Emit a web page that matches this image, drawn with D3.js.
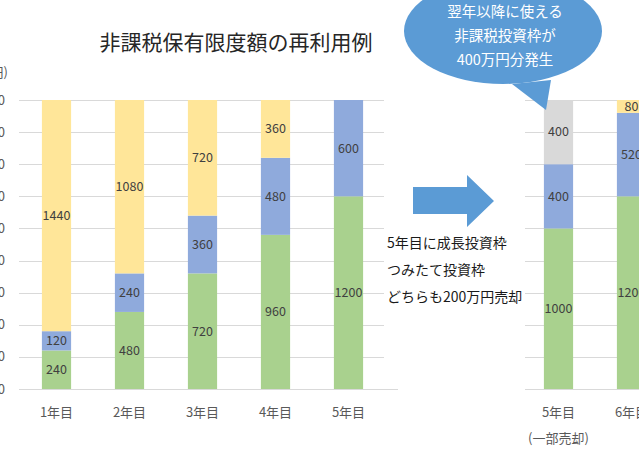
<!DOCTYPE html>
<html>
<head>
<meta charset="utf-8">
<script src="https://cdn.jsdelivr.net/npm/d3@7"></script>
<style>
  body { margin: 0; background: #fff; }
  svg text { font-family: "Noto Sans CJK JP", "Noto Sans", sans-serif; }
</style>
</head>
<body>
<svg width="639" height="450"></svg>
<script>
// left chart: 1年目..5年目
var yearsA = ['1年目', '2年目', '3年目', '4年目', '5年目'];
var tsumitate = [240, 480, 720, 960, 1200];
var seicho = [120, 240, 360, 480, 600];
var mishiyo = [1440, 1080, 720, 360, 0];

// right chart: after partial sale
var yearsB = ['5年目', '6年目'];
var yearsBsub = ['(一部売却)', ''];
var tsumitateB = [1000, 1200];
var seichoB = [400, 520];
var freedB = [400, 0];      // gray: freed-up allowance
var mishiyoB = [0, 80];

var yTicks = [0, 200, 400, 600, 800, 1000, 1200, 1400, 1600, 1800];

var colors = { green: '#A9D18E', blue: '#8FAADC', yellow: '#FFE699', gray: '#D9D9D9' };

var svg = d3.select('svg');
var y = d3.scaleLinear().domain([0, 1800]).range([389, 100]);

// ---- left chart
var xA = d3.scaleBand().domain(yearsA).range([20, 385]).paddingInner(0.6).paddingOuter(0.3);

svg.append('g').selectAll('line')
  .data(yTicks)
  .enter().append('line')
  .attr('x1', 19).attr('x2', function(d) { return d === 0 ? 398 : 384; })
  .attr('y1', function(d) { return Math.round(y(d)) + 0.5; })
  .attr('y2', function(d) { return Math.round(y(d)) + 0.5; })
  .attr('stroke', '#D9D9D9').attr('stroke-width', 1);

svg.append('g').selectAll('text')
  .data(yTicks)
  .enter().append('text')
  .attr('x', 5).attr('y', function(d) { return y(d); })
  .attr('dy', '0.35em').attr('text-anchor', 'end')
  .attr('font-size', 13).attr('fill', '#595959')
  .text(function(d) { return d; });

svg.append('text').attr('x', 8).attr('y', 77).attr('text-anchor', 'end')
  .attr('font-size', 13).attr('fill', '#595959').text('(万円)');

function stackRows(cats, series) {
  var rows = [];
  cats.forEach(function(c, i) {
    var base = 0;
    series.forEach(function(s) {
      var v = s.values[i];
      rows.push({ cat: c, v: v, y0: base, y1: base + v, color: s.color });
      base += v;
    });
  });
  return rows;
}

function drawBars(x, rows) {
  var g = svg.append('g');
  g.selectAll('rect')
    .data(rows.filter(function(d) { return d.v > 0; }))
    .enter().append('rect')
    .attr('x', function(d) { return x(d.cat); })
    .attr('width', x.bandwidth())
    .attr('y', function(d) { return y(d.y1); })
    .attr('height', function(d) { return y(d.y0) - y(d.y1); })
    .attr('fill', function(d) { return d.color; });
  g.selectAll('text')
    .data(rows.filter(function(d) { return d.v > 0; }))
    .enter().append('text')
    .attr('x', function(d) { return x(d.cat) + x.bandwidth() / 2; })
    .attr('y', function(d) { return y((d.y0 + d.y1) / 2); })
    .attr('dy', '0.35em').attr('text-anchor', 'middle')
    .attr('font-size', 12.5).attr('fill', '#404040')
    .text(function(d) { return d.v; });
}

drawBars(xA, stackRows(yearsA, [
  { values: tsumitate, color: colors.green },
  { values: seicho, color: colors.blue },
  { values: mishiyo, color: colors.yellow }
]));

svg.append('g').selectAll('text')
  .data(yearsA)
  .enter().append('text')
  .attr('x', function(d) { return xA(d) + xA.bandwidth() / 2; })
  .attr('y', 412).attr('dy', '0.35em').attr('text-anchor', 'middle')
  .attr('font-size', 13).attr('fill', '#595959')
  .text(function(d) { return d; });

svg.append('text').attr('x', 236).attr('y', 50).attr('text-anchor', 'middle')
  .attr('font-size', 21).attr('fill', '#262626').text('非課税保有限度額の再利用例');

// ---- right chart
var xB = d3.scaleBand().domain(yearsB).range([522, 668]).paddingInner(0.6).paddingOuter(0.3);

svg.append('g').selectAll('line')
  .data(yTicks)
  .enter().append('line')
  .attr('x1', 525).attr('x2', 639)
  .attr('y1', function(d) { return Math.round(y(d)) + 0.5; })
  .attr('y2', function(d) { return Math.round(y(d)) + 0.5; })
  .attr('stroke', '#D9D9D9').attr('stroke-width', 1);

drawBars(xB, stackRows(yearsB, [
  { values: tsumitateB, color: colors.green },
  { values: seichoB, color: colors.blue },
  { values: freedB, color: colors.gray },
  { values: mishiyoB, color: colors.yellow }
]));

var xl = svg.append('g').selectAll('g')
  .data(yearsB)
  .enter().append('g');
xl.append('text')
  .attr('x', function(d) { return xB(d) + xB.bandwidth() / 2; })
  .attr('y', 412).attr('dy', '0.35em').attr('text-anchor', 'middle')
  .attr('font-size', 13).attr('fill', '#595959')
  .text(function(d) { return d; });
xl.append('text')
  .attr('x', function(d) { return xB(d) + xB.bandwidth() / 2; })
  .attr('y', 438).attr('dy', '0.35em').attr('text-anchor', 'middle')
  .attr('font-size', 13).attr('fill', '#595959')
  .text(function(d, i) { return yearsBsub[i]; });

// ---- arrow + notes
svg.append('path')
  .attr('d', 'M413,187 L467,187 L467,175 L494,201 L467,227 L467,214 L413,214 Z')
  .attr('fill', '#5B9BD5');

var notes = ['5年目に成長投資枠', 'つみたて投資枠', 'どちらも200万円売却'];
svg.append('g').selectAll('text')
  .data(notes)
  .enter().append('text')
  .attr('x', 387).attr('y', function(d, i) { return 243 + i * 27; })
  .attr('dy', '0.35em').attr('font-size', 14).attr('fill', '#1a1a1a')
  .text(function(d) { return d; });

// ---- callout bubble
var callout = ['翌年以降に使える', '非課税投資枠が', '400万円分発生'];
svg.append('path')
  .attr('d', 'M512,84 L546,110 L551,80 Z')
  .attr('fill', '#5B9BD5');
svg.append('ellipse')
  .attr('cx', 503).attr('cy', 31).attr('rx', 99).attr('ry', 53)
  .attr('fill', '#5B9BD5');
svg.append('g').selectAll('text')
  .data(callout)
  .enter().append('text')
  .attr('x', 505).attr('y', function(d, i) { return 12 + i * 24; })
  .attr('dy', '0.35em').attr('text-anchor', 'middle')
  .attr('font-size', 14.5).attr('fill', '#fff')
  .text(function(d) { return d; });
</script>
</body>
</html>
